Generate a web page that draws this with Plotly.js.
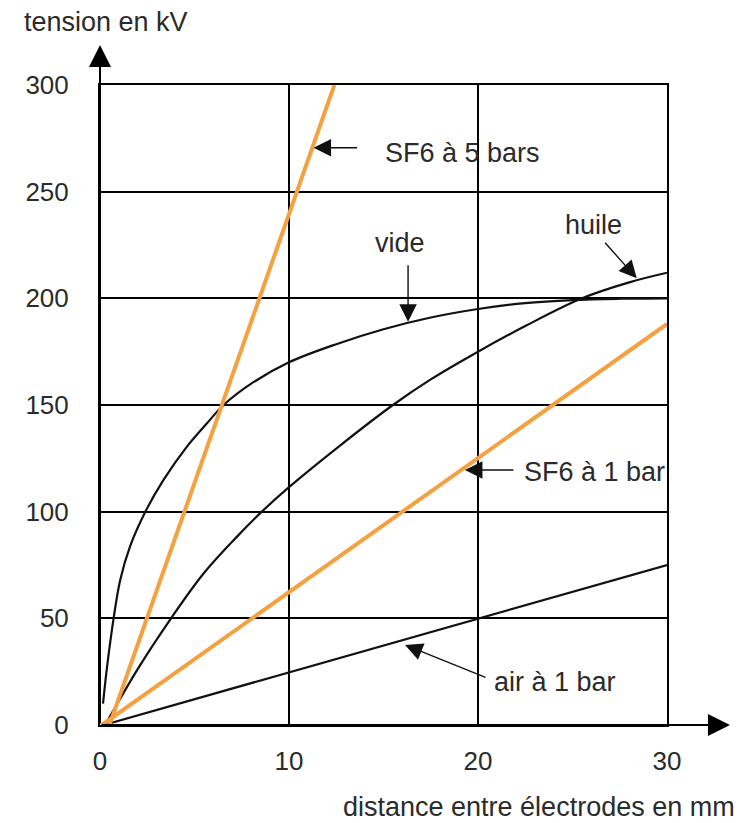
<!DOCTYPE html>
<html>
<head>
<meta charset="utf-8">
<script src="https://cdn.plot.ly/plotly-3.0.1.min.js"></script>
<style>html,body{margin:0;padding:0;background:#fff;}#chart{width:750px;height:823px;}</style>
</head>
<body>
<div id="chart"></div>
<script>
// distance entre électrodes (mm) / tension (kV)
const videX  = [0.16, 0.37, 0.72, 1.07, 1.6, 2.4, 3.37, 4.6, 5.66, 6.54, 8, 10, 12.5, 15, 17.5, 20, 22.5, 25, 27.5, 30];
const videY  = [10, 27, 50, 68, 84, 100, 115, 130.5, 141.4, 150, 160, 170, 178.5, 185.5, 191, 195, 197.8, 199.2, 199.8, 200];
const huileX = [0.37, 2.05, 3.76, 5.48, 7.25, 8.56, 10, 12.7, 15.5, 17.5, 20, 22.5, 25.5, 28, 30];
const huileY = [1.5, 27, 50, 71, 88.3, 100, 111.5, 131, 150, 162, 175, 187, 200, 207.5, 212];
const sf6_5X = [0.5, 12.4];
const sf6_5Y = [0, 300];
const sf6_1X = [0.1, 30];
const sf6_1Y = [0, 188];
const airX   = [0.2, 30];
const airY   = [0, 75];

const xTicks = [0, 10, 20, 30];
const yTicks = [0, 50, 100, 150, 200, 250, 300];

const labels = {
  sf6_5: "SF6 à 5 bars",
  vide: "vide",
  huile: "huile",
  sf6_1: "SF6 à 1 bar",
  air: "air à 1 bar"
};

const FONT = "Liberation Sans, Arial, sans-serif";
const TXT = "#2b2b2b";
const ORANGE = "#F5A140";

const blackLine = {color: "#111", width: 2.2, shape: "spline", smoothing: 1};
const traces = [
  {x: airX, y: airY, mode: "lines", line: {color: "#111", width: 2.2}},
  {x: huileX, y: huileY, mode: "lines", line: blackLine},
  {x: videX, y: videY, mode: "lines", line: blackLine},
  {x: sf6_1X, y: sf6_1Y, mode: "lines", line: {color: ORANGE, width: 4}},
  {x: sf6_5X, y: sf6_5Y, mode: "lines", line: {color: ORANGE, width: 4}}
];

function arrow(x, y, ax, ay) {
  return {x: x, y: y, xref: "x", yref: "y", ax: ax, ay: ay, text: "", showarrow: true,
    arrowhead: 2, arrowsize: 2.5, arrowwidth: 1.4, arrowcolor: "#111"};
}
function label(x, y, text, xanchor) {
  return {x: x, y: y, xref: "x", yref: "y", text: text, showarrow: false,
    xanchor: xanchor, yanchor: "middle", font: {family: FONT, size: 27, color: TXT}};
}

const annotations = [
  // axis arrows
  {x: 0, y: 1.0625, xref: "paper", yref: "paper", ax: 0, ay: 680, text: "", showarrow: true,
   arrowhead: 2, arrowsize: 2.2, arrowwidth: 2, arrowcolor: "#000"},
  {x: 1.111, y: 0, xref: "paper", yref: "paper", ax: -630, ay: 0, text: "", showarrow: true,
   arrowhead: 2, arrowsize: 2.2, arrowwidth: 2, arrowcolor: "#000"},
  // axis titles
  {x: -0.1376, y: 1.098, xref: "paper", yref: "paper", text: "tension en kV", showarrow: false,
   xanchor: "left", yanchor: "middle", font: {family: FONT, size: 27, color: TXT}},
  {x: 1.1235, y: -0.128, xref: "paper", yref: "paper", text: "distance entre électrodes en mm", showarrow: false,
   xanchor: "right", yanchor: "middle", font: {family: FONT, size: 27, color: TXT}},
  // curve labels
  arrow(11.3, 270.6, 45, 0),
  label(14.99, 268, labels.sf6_5, "left"),
  arrow(16.3, 189, 0, -58),
  label(15.87, 225.8, labels.vide, "center"),
  arrow(28.4, 209.4, -33, -37),
  label(26.1, 234.4, labels.huile, "center"),
  arrow(19.31, 119.5, 50, 0),
  label(22.33, 118.6, labels.sf6_1, "left"),
  arrow(16.14, 37.5, 82, 33),
  label(20.74, 20.2, labels.air, "left")
];

const layout = {
  width: 750, height: 823,
  margin: {l: 100, r: 83, t: 85, b: 98},
  paper_bgcolor: "#fff", plot_bgcolor: "#fff",
  showlegend: false,
  xaxis: {range: [0, 30], tickvals: xTicks, ticktext: xTicks.map(String),
    showgrid: true, gridcolor: "#000", gridwidth: 2, zeroline: false,
    showline: true, mirror: true, linecolor: "#000", linewidth: 2,
    ticks: "", ticklabelstandoff: 12, tickfont: {family: FONT, size: 26, color: TXT}},
  yaxis: {range: [0, 300], tickvals: yTicks, ticktext: yTicks.map(String),
    showgrid: true, gridcolor: "#000", gridwidth: 2, zeroline: false,
    showline: true, mirror: true, linecolor: "#000", linewidth: 2,
    ticks: "", ticklabelstandoff: 24, tickfont: {family: FONT, size: 26, color: TXT}},
  annotations: annotations
};

Plotly.newPlot("chart", traces, layout, {staticPlot: true, displayModeBar: false});
</script>
</body>
</html>
